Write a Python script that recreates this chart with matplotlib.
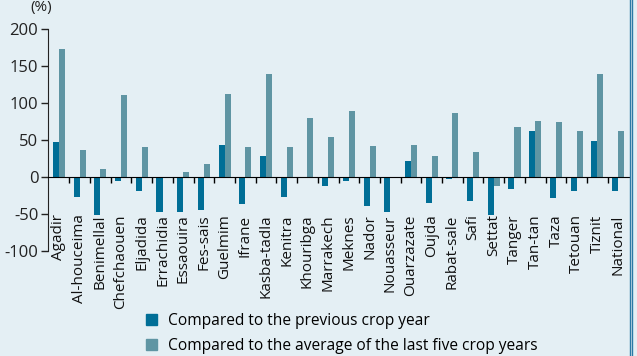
import numpy as np
import matplotlib.pyplot as plt
from matplotlib.lines import Line2D
from matplotlib.patches import Patch

regions = ['Agadir', 'Al-houceima', 'Benimellal', 'Chefchaouen', 'Eljadida', 'Errachidia',
           'Essaouira', 'Fes-sais', 'Guelmim', 'Ifrane', 'Kasba-tadla', 'Kenitra', 'Khouribga',
           'Marrakech', 'Meknes', 'Nador', 'Nouasseur', 'Ouarzazate', 'Oujda', 'Rabat-sale',
           'Safi', 'Settat', 'Tanger', 'Tan-tan', 'Taza', 'Tetouan', 'Tiznit', 'National']

# % change vs previous crop year
vs_previous = [47, -27, -52, -5, -19, -47, -47, -45, 43, -37, 28, -27, -2,
               -13, -5, -40, -48, 22, -35, -3, -32, -51, -17, 62, -29, -19, 49, -19]
# % change vs average of the last five crop years
vs_five_year = [173, 36, 11, 111, 40, 0, 7, 17, 112, 40, 140, 40, 80,
                54, 89, 42, 0, 43, 28, 86, 34, -13, 68, 76, 74, 62, 140, 62]

label_prev = 'Compared to the previous crop year'
label_avg = 'Compared to the average of the last five crop years'

bg = '#e4eff4'
c_dark = '#006e96'
c_light = '#5f95a3'

plt.rcParams['font.family'] = ['Open Sans', 'DejaVu Sans']
plt.rcParams['axes.unicode_minus'] = False

fig = plt.figure(figsize=(6.37, 3.56), dpi=100, facecolor=bg)
ax = fig.add_axes([48 / 637, 1 - 250.7 / 356, 581 / 637, 221.4 / 356])
ax.set_facecolor(bg)

x = np.arange(len(regions))
w = 0.29
ax.bar(x - w / 2, vs_previous, w, color=c_dark, zorder=2)
ax.bar(x + w / 2, vs_five_year, w, color=c_light, zorder=2)

ax.set_xlim(-0.53, len(regions) - 0.47)
ax.set_ylim(-100, 200)
ax.set_yticks([-100, -50, 0, 50, 100, 150, 200])
ax.tick_params(axis='y', labelsize=12, length=5, width=1, pad=2, colors='#222222')

for s in ['top', 'right']:
    ax.spines[s].set_visible(False)
ax.spines['bottom'].set_position(('data', 0))
ax.spines['bottom'].set_zorder(3)
ax.spines['left'].set_color('#222222')

ax.set_xticks(x)
ax.set_xticklabels(regions, rotation=90, fontsize=11, va='top', ha='center')
ax.set_xticks(np.arange(len(regions) - 1) + 0.5, minor=True)
ax.tick_params(axis='x', which='major', length=0, pad=27, colors='#111111')
ax.tick_params(axis='x', which='minor', length=4, width=1, direction='out')

fig.text(41 / 637, 1 - 7 / 356, '(%)', ha='center', va='center', fontsize=11, color='#222222')

handles = [Patch(color=c_dark), Patch(color=c_light)]
fig.legend(handles, [label_prev, label_avg], loc='upper left',
           bbox_to_anchor=(146 / 637, 1 - 313 / 356), frameon=False, fontsize=11.2,
           handlelength=0.7, handleheight=0.7, handletextpad=0.7, labelspacing=0.55,
           borderpad=0, borderaxespad=0)

# right edge frame
for xp in (629.5 / 637, 631.5 / 637):
    fig.add_artist(Line2D([xp, xp], [0, 1], color='#2b7aa6', lw=1, transform=fig.transFigure))

fig.savefig('out.png', dpi=100, facecolor=bg)
